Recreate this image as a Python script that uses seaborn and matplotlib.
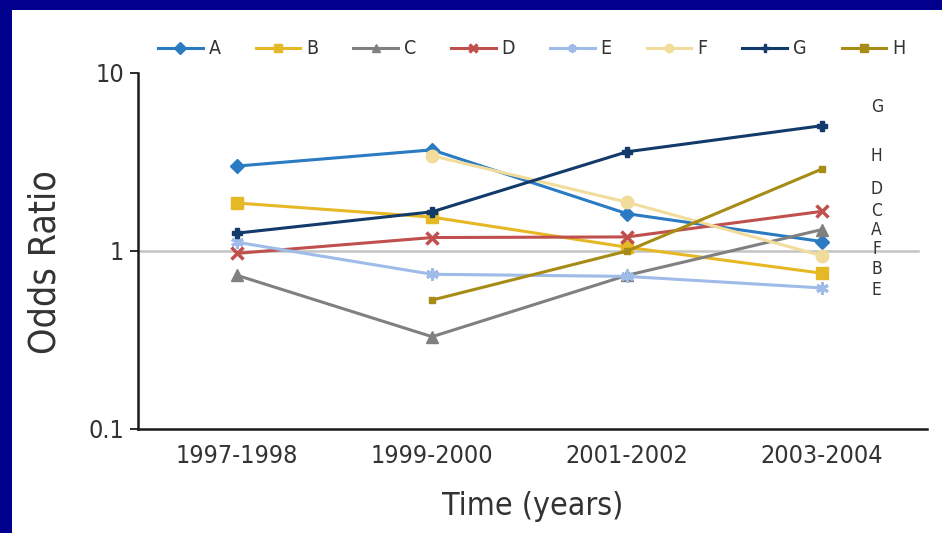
import numpy as np
import pandas as pd
import matplotlib
matplotlib.use("Agg")
import matplotlib.pyplot as plt
from matplotlib.patches import Rectangle
import seaborn as sns

# ---- data ----
periods = ["1997-1998", "1999-2000", "2001-2002", "2003-2004"]
series_names = ["A", "B", "C", "D", "E", "F", "G", "H"]
A = [3.0, 3.7, 1.62, 1.13]
B = [1.86, 1.55, 1.05, 0.75]
C = [0.73, 0.33, 0.73, 1.32]
D = [0.97, 1.19, 1.20, 1.67]
E = [1.12, 0.74, 0.72, 0.62]
F = [np.nan, 3.43, 1.88, 0.94]
G = [1.26, 1.66, 3.61, 5.06]
H = [np.nan, 0.53, 1.00, 2.89]
series_values = [A, B, C, D, E, F, G, H]

end_labels = ["G", "H", "D", "C", "A", "F", "B", "E"]
end_label_values = [6.44, 3.42, 2.23, 1.67, 1.31, 1.02, 0.79, 0.60]

y_ticks = [0.1, 1, 10]
y_tick_labels = ["0.1", "1", "10"]

# ---- styles ----
colors = {"A": "#2a7bc2", "B": "#e6b825", "C": "#808080", "D": "#c0504d",
          "E": "#9fbbe8", "F": "#f1dc9c", "G": "#123a6a", "H": "#a68b15"}
markers = {"A": "D", "B": "s", "C": "^", "D": "x", "E": (6, 2, 0),
           "F": "o", "G": "P", "H": "s"}
msizes = {"A": 7.5, "B": 8.5, "C": 9, "D": 8, "E": 9, "F": 9, "G": 7, "H": 5}
mews = {"A": 1, "B": 1, "C": 1, "D": 2.5, "E": 2.2, "F": 1, "G": 1, "H": 1}

rows = []
for name, vals in zip(series_names, series_values):
    for i, (p, v) in enumerate(zip(periods, vals)):
        rows.append({"series": name, "period": p, "pos": i, "odds": v})
df = pd.DataFrame(rows)

TXT = "#333333"
plt.rcParams["font.family"] = ["DejaVu Sans"]
plt.rcParams["font.stretch"] = "condensed"

W, Hh = 942, 533
fig = plt.figure(figsize=(W / 100, Hh / 100), dpi=100)
fig.patch.set_facecolor("white")
# blue slide border (top and left)
fig.patches.append(Rectangle((0, (Hh - 10) / Hh), 1, 10 / Hh, transform=fig.transFigure,
                             facecolor="#00008c", edgecolor="none", zorder=0))
fig.patches.append(Rectangle((0, 0), 12 / W, 1, transform=fig.transFigure,
                             facecolor="#00008c", edgecolor="none", zorder=0))

ax = fig.add_axes([138 / W, 104 / Hh, (927 - 138) / W, (460 - 104) / Hh])
ax.set_facecolor("none")

xmin, xmax = -0.508, 3.538
ax.axhline(1, xmin=0, xmax=(3.49 - xmin) / (xmax - xmin), color="#c4c4c4", lw=1.8, zorder=1)

for name in series_names:
    sub = df[df["series"] == name].dropna()
    sns.lineplot(data=sub, x="pos", y="odds", ax=ax, color=colors[name],
                 marker=markers[name], markersize=msizes[name],
                 markeredgecolor=colors[name], markeredgewidth=mews[name],
                 linewidth=2.2, label=name, estimator=None, sort=False,
                 errorbar=None, zorder=3)

ax.set_yscale("log")
ax.set_ylim(0.1, 10)
ax.set_xlim(xmin, xmax)
ax.set_yticks(y_ticks)
ax.set_yticklabels(y_tick_labels)
ax.yaxis.set_minor_locator(matplotlib.ticker.NullLocator())
ax.set_xticks(range(len(periods)))
ax.set_xticklabels(periods)

for s in ["top", "right"]:
    ax.spines[s].set_visible(False)
for s in ["left", "bottom"]:
    ax.spines[s].set_color("#1a1a1a")
    ax.spines[s].set_linewidth(1.8)

ax.tick_params(axis="y", length=6, width=1.3, color="#1a1a1a", labelsize=18,
               labelcolor=TXT, pad=4)
ax.tick_params(axis="x", length=0, labelsize=18, labelcolor=TXT, pad=11)

ax.set_xlabel("Time (years)", fontsize=23, color=TXT)
ax.set_ylabel("Odds Ratio", fontsize=27, color=TXT)
ax.xaxis.set_label_coords(0.5, -0.175)
ax.yaxis.set_label_coords(-0.095, 0.47)

for lab, v in zip(end_labels, end_label_values):
    ax.text(3.28, v, lab, ha="center", va="center", fontsize=12.5, color=TXT, clip_on=False)

handles, labels = ax.get_legend_handles_labels()
leg = ax.legend(handles, labels, loc="center left",
                bbox_to_anchor=(158 / W, (Hh - 49) / Hh), bbox_transform=fig.transFigure,
                ncol=8, frameon=False, fontsize=14, handlelength=2.3,
                handletextpad=0.3, columnspacing=1.8, borderpad=0, borderaxespad=0)
for t in leg.get_texts():
    t.set_color(TXT)
for h in leg.legend_handles:
    h.set_markersize(6)

fig.savefig("out.png", dpi=100, facecolor=fig.get_facecolor())
